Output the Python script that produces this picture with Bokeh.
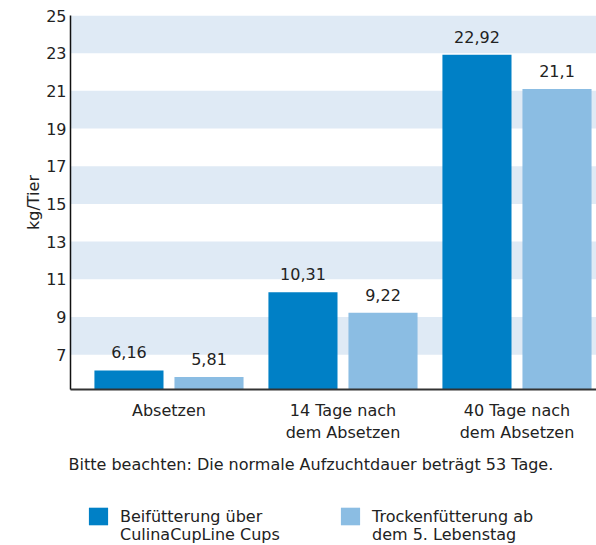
from bokeh.plotting import figure
from bokeh.layouts import column
from bokeh.models import (Range1d, FixedTicker, BoxAnnotation, ColumnDataSource,
                          Legend, LegendItem, Title)
from bokeh.core.properties import value
from bokeh.embed import file_html
from bokeh.resources import INLINE

categories = ["Absetzen", "14 Tage nach\ndem Absetzen", "40 Tage nach\ndem Absetzen"]
series_names = ["Beifütterung über\nCulinaCupLine Cups", "Trockenfütterung ab\ndem 5. Lebenstag"]
cup_values = [6.16, 10.31, 22.92]
dry_values = [5.81, 9.22, 21.10]
y_ticks = [7, 9, 11, 13, 15, 17, 19, 21, 23, 25]
footnote = "Bitte beachten: Die normale Aufzuchtdauer beträgt 53 Tage."

FONT = "DejaVu Sans"
FS = "16px"
DARK = "#0080c6"
LIGHT = "#8bbde3"
BAND = "#dfeaf5"
TXT = "#222222"

def fmt(v):
    s = f"{v:.2f}".rstrip("0").rstrip(".")
    return s.replace(".", ",")

xs = list(range(1, len(categories) + 1))
off = 0.23
src1 = ColumnDataSource(dict(x=[x - off for x in xs], top=cup_values,
                             lab=[fmt(v) for v in cup_values]))
src2 = ColumnDataSource(dict(x=[x + off for x in xs], top=dry_values,
                             lab=[fmt(v) for v in dry_values]))

p = figure(width=596, height=495, output_backend="svg", toolbar_location=None,
           x_range=Range1d(0.434, 3.457), y_range=Range1d(5.15, 25),
           min_border_left=70, min_border_right=0, min_border_top=15,
           min_border_bottom=106)
p.outline_line_color = None
p.xgrid.visible = False
p.ygrid.visible = False

for b in y_ticks[::2]:
    p.add_layout(BoxAnnotation(bottom=b, top=b + 2, fill_color=BAND,
                               fill_alpha=1, line_color=None, level="underlay"))

r1 = p.vbar(x="x", top="top", bottom=5.15, width=0.397, source=src1,
            fill_color=DARK, line_color=None)
r2 = p.vbar(x="x", top="top", bottom=5.15, width=0.397, source=src2,
            fill_color=LIGHT, line_color=None)
for s in (src1, src2):
    p.text(x="x", y="top", text="lab", source=s, text_align="center",
           text_baseline="alphabetic", y_offset=-18, text_color=TXT,
           text_font=value(FONT), text_font_size=FS)

# axes
p.yaxis.ticker = FixedTicker(ticks=y_ticks)
p.yaxis.axis_label = "kg/Tier"
p.yaxis.axis_label_text_font = FONT
p.yaxis.axis_label_text_font_style = "normal"
p.yaxis.axis_label_text_font_size = FS
p.yaxis.axis_label_text_color = TXT
p.yaxis.axis_label_standoff = 0
p.yaxis.major_label_text_font = FONT
p.yaxis.major_label_text_font_size = FS
p.yaxis.major_label_text_color = TXT
p.yaxis.major_label_text_baseline = "top"
p.yaxis.major_label_standoff = 4
p.yaxis.major_tick_out = 0
p.yaxis.major_tick_in = 0
p.yaxis.major_tick_line_color = None
p.yaxis.minor_tick_line_color = None
p.yaxis.axis_line_color = "#111111"
p.yaxis.axis_line_width = 1.5

p.xaxis.ticker = FixedTicker(ticks=xs)
p.xaxis.major_label_overrides = {x: c for x, c in zip(xs, categories)}
p.xaxis.major_label_text_font = FONT
p.xaxis.major_label_text_font_size = FS
p.xaxis.major_label_text_color = TXT
p.xaxis.major_label_text_line_height = 1.2
p.xaxis.major_label_standoff = 5
p.xaxis.major_tick_line_color = None
p.xaxis.minor_tick_line_color = None
p.xaxis.axis_line_color = "#333333"
p.xaxis.axis_line_width = 2

p.add_layout(Title(text=footnote, align="left", text_font=FONT,
                   text_font_size=FS, text_font_style="normal",
                   text_color=TXT, standoff=14, offset=-2), "below")

# legend strip (frames of a column are aligned, so x is measured from x=70)
lg = figure(width=596, height=50, output_backend="svg", toolbar_location=None,
            x_range=Range1d(0, 1), y_range=Range1d(0, 1),
            min_border_left=0, min_border_right=0, min_border_top=0,
            min_border_bottom=0)
lg.axis.visible = False
lg.grid.visible = False
lg.outline_line_color = None
d1 = lg.vbar(x=[-5], top=[-5], bottom=[-6], width=1, fill_color=DARK, line_color=None)
d2 = lg.vbar(x=[-5], top=[-5], bottom=[-6], width=1, fill_color=LIGHT, line_color=None)
h1 = lg.vbar(x=[-5], top=[-5], bottom=[-6], width=1, fill_alpha=0, line_color=None)

first_lines = [n.split("\n")[0] for n in series_names]
second_lines = [n.split("\n")[1] for n in series_names]
common = dict(orientation="horizontal", glyph_width=24, glyph_height=22,
              label_standoff=10, label_width=218, spacing=0, padding=0, margin=0,
              border_line_color=None, background_fill_alpha=0,
              label_text_font=FONT, label_text_font_size=FS,
              label_text_color=TXT)
leg1 = Legend(items=[LegendItem(label=first_lines[0], renderers=[d1]),
                     LegendItem(label=first_lines[1], renderers=[d2])],
              location=(16, 18), **common)
leg2 = Legend(items=[LegendItem(label=second_lines[0], renderers=[h1]),
                     LegendItem(label=second_lines[1], renderers=[h1])],
              location=(16, 0), **common)
lg.add_layout(leg1, "center")
lg.add_layout(leg2, "center")

open("out.html", "w").write(file_html(column(p, lg), INLINE))
